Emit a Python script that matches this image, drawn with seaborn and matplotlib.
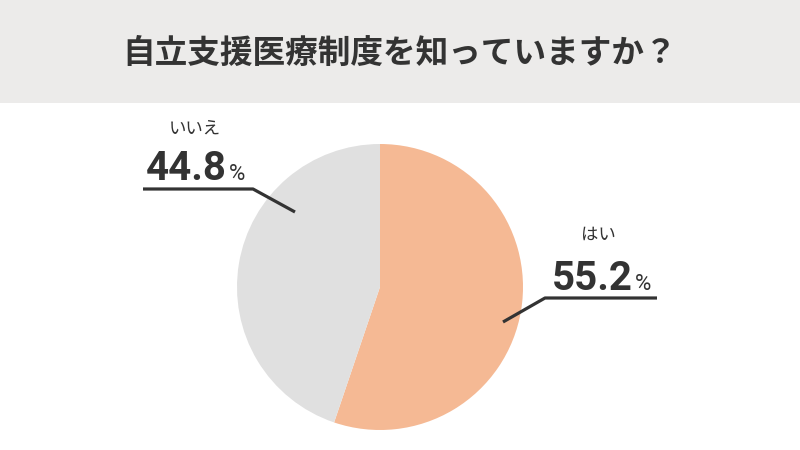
import matplotlib
matplotlib.use("Agg")
import matplotlib.pyplot as plt
import seaborn as sns
from matplotlib.patches import Rectangle

sns.set_theme(style="white")
plt.rcParams['font.family'] = ['Noto Sans CJK JP', 'DejaVu Sans']

title = "自立支援医療制度を知っていますか？"
categories = ["はい", "いいえ"]
values = [55.2, 44.8]
colors = ["#f5b994", "#e0e0e0"]

fig = plt.figure(figsize=(8, 4.5), dpi=100)
fig.patch.set_facecolor("white")

# pie axes: center (380,287) px, radius 143 px
cx, cy, r = 380, 287, 143
ax = fig.add_axes([(cx - r) / 800, (450 - cy - r) / 450, 2 * r / 800, 2 * r / 450])
ax.pie(values, colors=colors, startangle=90, counterclock=False, radius=1,
       wedgeprops=dict(linewidth=0))
ax.set_xlim(-1, 1)
ax.set_ylim(-1, 1)
ax.set_aspect("auto")
ax.axis("off")

# overlay in pixel coords
ov = fig.add_axes([0, 0, 1, 1], zorder=5)
ov.set_xlim(0, 800)
ov.set_ylim(450, 0)
ov.axis("off")
ov.patch.set_alpha(0)

band = Rectangle((0, 0), 800, 103, facecolor="#ecebea", edgecolor="none", zorder=0)
ov.add_patch(band)
ov.text(400, 53, title, ha="center", va="center", fontsize=23.5, fontweight="bold",
        color="#333333")

dark = "#333333"
numfont = ["Roboto", "DejaVu Sans"]
renderer = fig.canvas.get_renderer()


def big_label(x, y, val):
    t = ov.text(x, y, f"{val:.1f}", ha="left", va="baseline", fontsize=29,
                fontweight="bold", color=dark, family=numfont)
    bb = t.get_window_extent(renderer=renderer)
    xr = bb.x1 + 2
    ov.text(xr, y, "%", ha="left", va="baseline", fontsize=16, color=dark,
            family=numfont)


# いいえ label
ov.plot([143, 253, 295], [189, 189, 212], color=dark, lw=2.3, solid_capstyle="butt")
ov.text(195, 129, categories[1], ha="center", va="center", fontsize=12.5, color=dark)
big_label(146, 180, values[1])

# はい label
ov.plot([503, 545, 657], [322, 298, 298], color=dark, lw=2.3, solid_capstyle="butt")
ov.text(598, 235, categories[0], ha="center", va="center", fontsize=12.5, color=dark)
big_label(552, 290, values[0])

fig.savefig("out.png", dpi=100)
